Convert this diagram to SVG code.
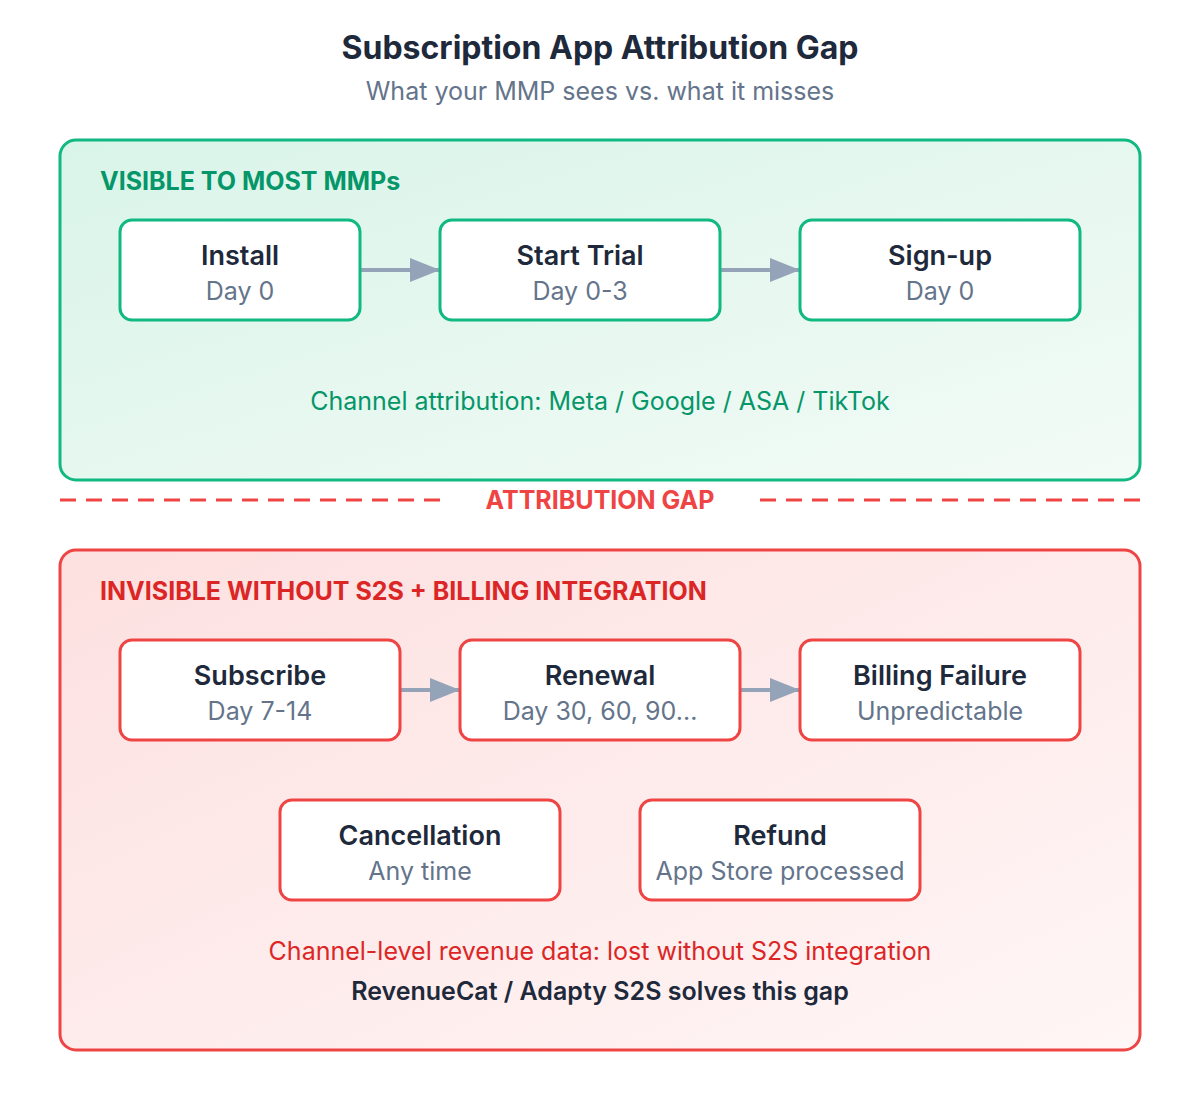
<svg xmlns="http://www.w3.org/2000/svg" width="1200" height="1100" viewBox="0 0 1200 1100">
<style>
text{font-family:Inter,"Liberation Sans",sans-serif;text-anchor:middle}
.t{font-size:27px;font-weight:600;fill:#1e293b}
.s{font-size:25px;fill:#64748b}
.gb{fill:#fff;stroke:#10b981;stroke-width:3}
.rb{fill:#fff;stroke:#ef4444;stroke-width:3}
.c{stroke:#94a3b8;stroke-width:4;fill:none;marker-end:url(#a)}
</style>
<defs>
<marker id="a" markerWidth="30" markerHeight="24" refX="30" refY="12" orient="auto" markerUnits="userSpaceOnUse" viewBox="0 0 30 24"><path d="M0,0L30,12L0,24z" fill="#94a3b8"/></marker>
<linearGradient id="g" x1="0" y1="0" x2="1" y2="1"><stop offset="0" stop-color="#d9f4e8"/><stop offset="1" stop-color="#f3fbf7"/></linearGradient>
<linearGradient id="r" x1="0" y1="0" x2="1" y2="1"><stop offset="0" stop-color="#fde0e0"/><stop offset="1" stop-color="#fff6f6"/></linearGradient>
</defs>
<rect width="1200" height="1100" fill="#fff"/>
<text x="600" y="59" style="font-size:32px;font-weight:700;fill:#1e293b">Subscription App Attribution Gap</text>
<text x="600" y="100" style="font-size:25px;fill:#64748b">What your MMP sees vs. what it misses</text>
<rect x="60" y="140" width="1080" height="340" rx="16" fill="url(#g)" stroke="#10b981" stroke-width="3"/>
<text x="100" y="190" style="font-size:25px;font-weight:700;fill:#059669;text-anchor:start">VISIBLE TO MOST MMPs</text>
<text x="600" y="410" style="font-size:25px;fill:#059669">Channel attribution: Meta / Google / ASA / TikTok</text>
<g stroke="#ef4444" stroke-width="3" stroke-dasharray="16,10"><line x1="60" y1="500" x2="440" y2="500"/><line x1="760" y1="500" x2="1140" y2="500"/></g>
<text x="600" y="509" style="font-size:25px;font-weight:700;fill:#ef4444">ATTRIBUTION GAP</text>
<rect x="60" y="550" width="1080" height="500" rx="16" fill="url(#r)" stroke="#ef4444" stroke-width="3"/>
<text x="100" y="600" style="font-size:25px;font-weight:700;fill:#dc2626;text-anchor:start">INVISIBLE WITHOUT S2S + BILLING INTEGRATION</text>
<text x="600" y="960" style="font-size:25px;fill:#dc2626">Channel-level revenue data: lost without S2S integration</text>
<text x="600" y="1000" style="font-size:25px;font-weight:600;fill:#1e293b">RevenueCat / Adapty S2S solves this gap</text>
<g id="connectors">
<line class="c" x1="360" y1="270" x2="440" y2="270"/>
<line class="c" x1="720" y1="270" x2="800" y2="270"/>
<line class="c" x1="400" y1="690" x2="460" y2="690"/>
<line class="c" x1="740" y1="690" x2="800" y2="690"/>
</g>
<g id="install"><rect class="gb" x="120" y="220" width="240" height="100" rx="12"/><text class="t" x="240" y="265">Install</text><text class="s" x="240" y="300">Day 0</text></g>
<g id="trial"><rect class="gb" x="440" y="220" width="280" height="100" rx="12"/><text class="t" x="580" y="265">Start Trial</text><text class="s" x="580" y="300">Day 0-3</text></g>
<g id="signup"><rect class="gb" x="800" y="220" width="280" height="100" rx="12"/><text class="t" x="940" y="265">Sign-up</text><text class="s" x="940" y="300">Day 0</text></g>
<g id="subscribe"><rect class="rb" x="120" y="640" width="280" height="100" rx="12"/><text class="t" x="260" y="685">Subscribe</text><text class="s" x="260" y="720">Day 7-14</text></g>
<g id="renewal"><rect class="rb" x="460" y="640" width="280" height="100" rx="12"/><text class="t" x="600" y="685">Renewal</text><text class="s" x="600" y="720">Day 30, 60, 90...</text></g>
<g id="billing"><rect class="rb" x="800" y="640" width="280" height="100" rx="12"/><text class="t" x="940" y="685">Billing Failure</text><text class="s" x="940" y="720">Unpredictable</text></g>
<g id="cancel"><rect class="rb" x="280" y="800" width="280" height="100" rx="12"/><text class="t" x="420" y="845">Cancellation</text><text class="s" x="420" y="880">Any time</text></g>
<g id="refund"><rect class="rb" x="640" y="800" width="280" height="100" rx="12"/><text class="t" x="780" y="845">Refund</text><text class="s" x="780" y="880">App Store processed</text></g>
</svg>
